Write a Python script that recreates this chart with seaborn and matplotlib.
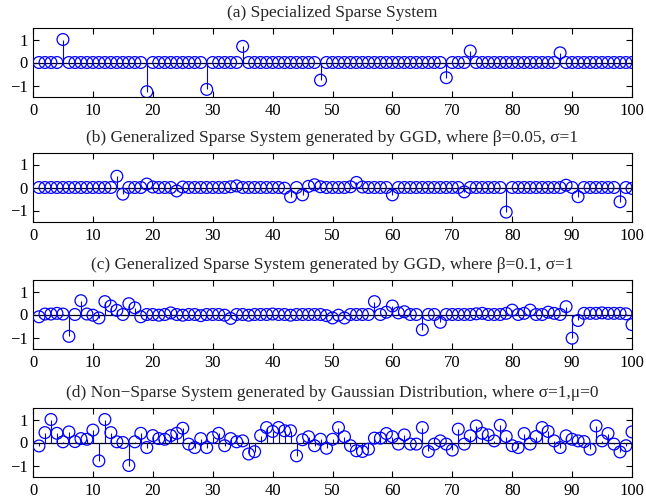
import numpy as np
import seaborn as sns
import matplotlib.pyplot as plt

sns.set_theme(style="ticks")
plt.rcParams['font.family'] = ['Liberation Serif', 'DejaVu Serif']
plt.rcParams['axes.unicode_minus'] = True

n = np.arange(1, 101)

# (a) specialized sparse system: nonzero taps only
sparse_a = [0.0] * 100
for k, v in [(5, 1.0), (19, -1.27), (29, -1.17), (35, 0.7), (48, -0.77),
             (69, -0.66), (73, 0.5), (88, 0.42)]:
    sparse_a[k - 1] = v

# (b) GGD, beta=0.05
ggd_b = [0.0, 0.0, 0.0, 0.0, 0.0, 0.0, 0.0, 0.0, 0.0, 0.0,
         0.0, 0.0, 0.0, 0.49, -0.29, 0.0, 0.0, 0.0, 0.15, 0.02,
         0.0, 0.0, 0.0, -0.15, 0.02, 0.0, 0.0, 0.0, 0.0, 0.0,
         0.0, 0.0, 0.03, 0.07, 0.0, 0.0, 0.0, 0.0, 0.0, 0.0,
         0.0, -0.03, -0.4, 0.0, -0.32, 0.05, 0.12, 0.03, 0.0, 0.0,
         0.0, 0.0, 0.03, 0.22, 0.02, 0.0, 0.0, 0.0, 0.0, -0.32,
         0.0, 0.0, 0.0, 0.0, 0.0, 0.0, 0.0, 0.0, 0.0, 0.0,
         0.0, -0.19, 0.0, 0.0, 0.0, 0.0, 0.0, 0.0, -1.07, 0.0,
         0.0, 0.0, 0.0, 0.0, 0.0, 0.0, 0.0, 0.0, 0.1, 0.0,
         -0.4, 0.0, 0.0, 0.0, 0.0, 0.0, 0.0, -0.62, 0.0, -0.04]

# (c) GGD, beta=0.1
ggd_c = [-0.1, 0.02, 0.02, 0.05, 0.02, -0.95, 0.0, 0.6, 0.02, -0.03,
         -0.15, 0.56, 0.37, 0.18, 0.0, 0.47, 0.29, -0.1, 0.0, 0.0,
         -0.03, 0.0, 0.07, 0.0, -0.03, 0.0, 0.0, -0.05, 0.0, 0.0,
         0.0, -0.03, -0.17, 0.0, 0.0, -0.03, 0.0, 0.0, 0.0, 0.02,
         0.0, 0.0, -0.03, 0.0, 0.0, 0.0, 0.0, 0.0, -0.05, -0.15,
         -0.03, -0.15, 0.0, 0.0, 0.0, 0.0, 0.56, 0.0, 0.1, 0.37,
         0.07, 0.12, 0.0, 0.0, -0.66, 0.0, 0.0, -0.34, 0.0, 0.0,
         0.0, 0.0, 0.0, 0.03, 0.05, 0.0, 0.0, 0.0, 0.05, 0.19,
         0.0, 0.05, 0.19, 0.0, 0.0, 0.1, 0.05, 0.0, 0.34, -1.03,
         -0.26, 0.05, 0.05, 0.05, 0.07, 0.05, 0.05, 0.05, 0.03, -0.44]

# (d) Gaussian, sigma=1, mu=0
gauss_d = [-0.15, 0.43, 1.0, 0.4, 0.03, 0.46, 0.04, 0.17, 0.14, 0.54,
           -0.8, 1.0, 0.43, 0.03, 0.0, -1.0, 0.03, 0.4, -0.22, 0.3,
           0.17, 0.14, 0.3, 0.4, 0.62, -0.07, -0.22, 0.17, -0.22, 0.22,
           0.4, -0.14, 0.17, 0.03, 0.07, -0.5, -0.4, 0.3, 0.65, 0.48,
           0.65, 0.51, 0.51, -0.58, 0.12, 0.25, -0.14, 0.14, -0.25, 0.14,
           0.65, 0.25, -0.14, -0.36, -0.39, -0.29, 0.19, 0.19, 0.39, 0.25,
           -0.07, 0.33, -0.07, -0.07, 0.65, -0.39, -0.07, 0.07, -0.07, -0.33,
           0.58, -0.07, 0.29, 0.72, 0.4, 0.33, 0.07, 0.75, 0.26, -0.14,
           -0.22, 0.39, -0.07, 0.26, 0.65, 0.48, 0.07, -0.22, 0.29, 0.14,
           0.07, 0.04, -0.29, 0.72, 0.07, 0.39, -0.07, -0.41, -0.14, 0.46]

titles = [
    "(a) Specialized Sparse System",
    "(b) Generalized Sparse System generated by GGD, where \u03b2=0.05, \u03c3=1",
    "(c) Generalized Sparse System generated by GGD, where \u03b2=0.1, \u03c3=1",
    "(d) Non\u2212Sparse System generated by Gaussian Distribution, where \u03c3=1,\u03bc=0",
]
series = [sparse_a, ggd_b, ggd_c, gauss_d]

W, H = 646, 504
left, width = 33 / W, 599 / W
bottoms_px = [97, 222, 349, 477]
ax_h = 69 / H

fig = plt.figure(figsize=(6.46, 5.04), dpi=100)
for title, vals, bpx in zip(titles, series, bottoms_px):
    ax = fig.add_axes([left, (H - bpx) / H, width, ax_h])
    ax.axhline(0, color='black', lw=0.9, zorder=1)
    ax.vlines(n, 0, vals, color='#0000ff', lw=0.8, zorder=2)
    sns.scatterplot(x=n, y=vals, ax=ax, marker='o', s=72,
                    facecolor='none', edgecolor='#0000ff', linewidth=0.9,
                    zorder=3, legend=False)
    ax.set_xlim(0, 100)
    ax.set_ylim(-1.5, 1.5)
    ax.set_xticks(range(0, 101, 10))
    ax.set_yticks([-1, 0, 1])
    ax.tick_params(direction='in', top=True, right=True, length=4,
                   width=0.8, labelsize=12, pad=4, colors='black')
    for sp in ax.spines.values():
        sp.set_linewidth(0.8)
        sp.set_color('black')
    ax.set_title(title, fontsize=12.5, pad=8)

fig.savefig("out.png", dpi=100)
